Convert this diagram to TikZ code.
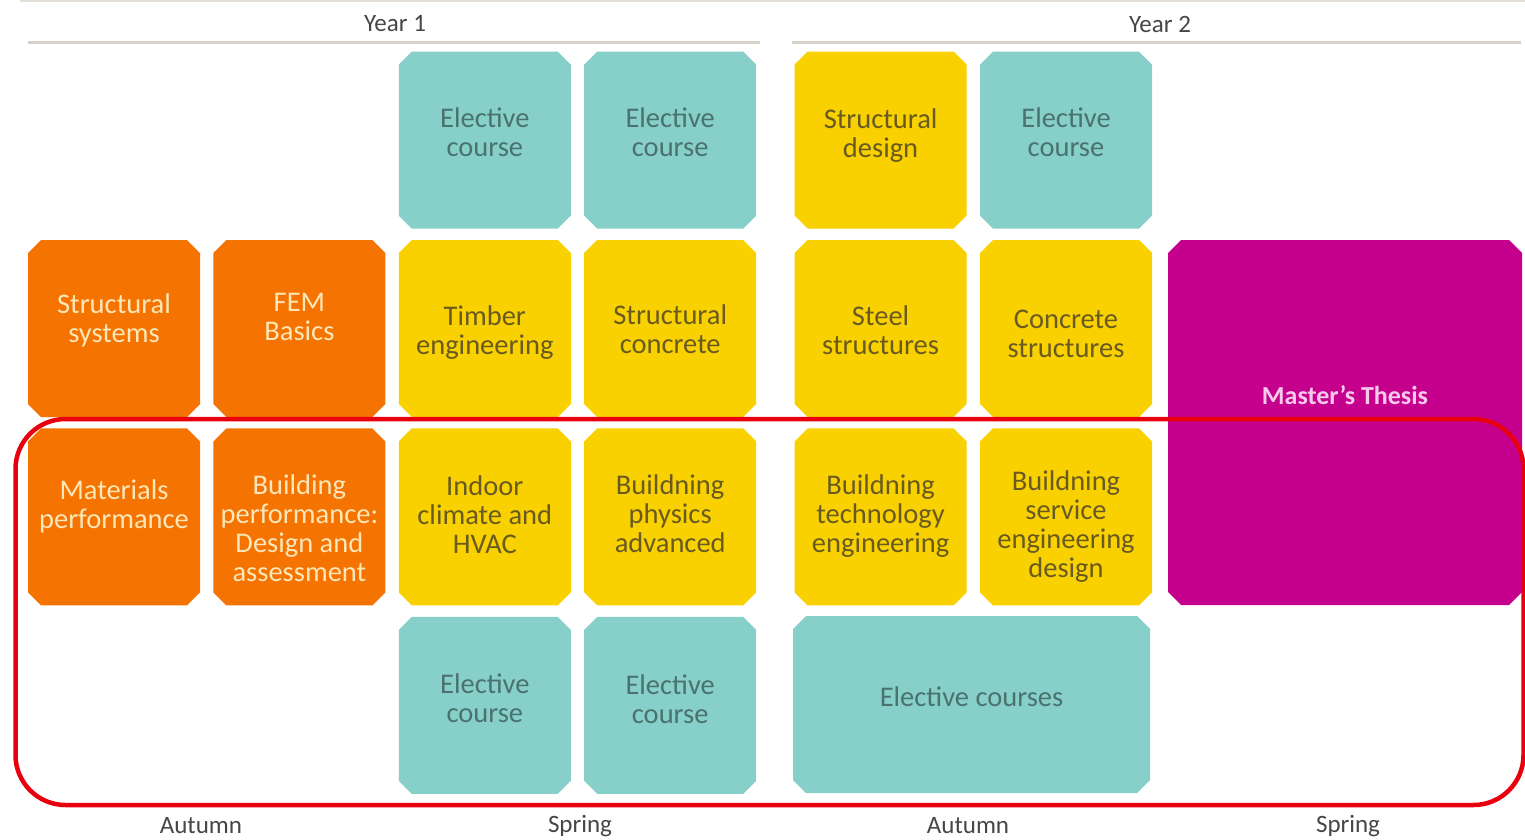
\documentclass[tikz,border=0pt]{standalone}
\usepackage{fontspec}
\setmainfont{Carlito}
\usepackage{tikz}
\usetikzlibrary{positioning}
\usetikzlibrary{shapes.misc}

\definecolor{basiccol}{RGB}{245,115,0}
\definecolor{basictext}{RGB}{253,230,184}
\definecolor{advcol}{RGB}{249,209,0}
\definecolor{advtext}{RGB}{104,90,32}
\definecolor{electcol}{RGB}{135,208,201}
\definecolor{electtext}{RGB}{74,114,110}
\definecolor{thesiscol}{RGB}{196,0,140}
\definecolor{thesistext}{RGB}{248,200,236}
\definecolor{headtext}{RGB}{70,70,70}
\definecolor{rulecol}{RGB}{216,209,200}
\definecolor{framecol}{RGB}{232,0,15}

\begin{document}
\begin{tikzpicture}[x=1pt,y=1pt,
  course/.style={chamfered rectangle, chamfered rectangle xsep=6.5pt,
    chamfered rectangle ysep=6.5pt, minimum width=172pt, minimum height=177pt,
    inner sep=12pt},
  lbl/.style={align=center, inner sep=0pt, font=\fontsize{28.5}{29}\selectfont},
  basic/.style 2 args={course, fill=basiccol,
    label={[lbl, text=basictext, yshift=#2]center:{#1}}},
  adv/.style 2 args={course, fill=advcol,
    label={[lbl, text=advtext, yshift=#2]center:{#1}}},
  elective/.style 2 args={course, fill=electcol,
    label={[lbl, text=electtext, yshift=#2]center:{#1}}},
  thesis/.style 2 args={course, fill=thesiscol,
    label={[lbl, text=thesistext, yshift=#2,
      font=\fontsize{26}{29}\selectfont\bfseries]center:{#1}}},
  head/.style={font=\fontsize{25}{28}\selectfont, text=headtext},
  rule/.style={draw=rulecol, line width=3pt},
  frame/.style={draw=framecol, line width=4.5pt, rounded corners=50pt},
  node distance=11pt and 13pt]
\useasboundingbox (0,0) rectangle (1525,-839);

% Headers
\draw[draw=rulecol!70, line width=1.5pt] (20,-1) -- (1525,-1);
\node[head] (year1) at (395,-24) {Year 1};
\node[head] (year2) at (1160,-24) {Year 2};
\draw[rule] (28,-42) -- (760,-42);
\draw[rule] (792,-42) -- (1521,-42);

% Middle row (compulsory courses)
\node[basic={Structural\\systems}{8pt}] (strsys) at (114,-328.5) {};
\node[basic={FEM\\Basics}{12pt}, right=of strsys] (fem) {};
\node[adv={Timber\\engineering}{-4pt}, right=of fem] (timber) {};
\node[adv={Structural\\concrete}{-1pt}, right=of timber] (strconc) {};
\node[adv={Steel\\structures}{-2pt}, right=38pt of strconc] (steel) {};
\node[adv={Concrete\\structures}{-5pt}, right=of steel] (concstr) {};

% Top row
\node[elective={Elective\\course}{8pt}, above=of timber] (elec1) {};
\node[elective={Elective\\course}{8pt}, above=of strconc] (elec2) {};
\node[adv={Structural\\design}{5pt}, above=of steel] (strdes) {};
\node[elective={Elective\\course}{8pt}, above=of concstr] (elec3) {};

% Lower row
\node[basic={Materials\\performance}{11pt}, below=of strsys] (matperf) {};
\node[basic={Building\\performance:\\Design and\\assessment}{-11pt}, below=of fem] (bperf) {};
\node[adv={Indoor\\climate and\\HVAC}{2pt}, below=of timber] (indoor) {};
\node[adv={Buildning\\physics\\advanced}{3pt}, below=of strconc] (bphys) {};
\node[adv={Buildning\\technology\\engineering}{1pt}, below=of steel] (btech) {};
\node[adv={Buildning\\service\\engineering\\design}{-10pt}, below=of concstr] (bserv) {};

% Bottom row
\node[elective={Elective\\course}{7pt}, below=of indoor] (elec4) {};
\node[elective={Elective\\course}{6pt}, below=of bphys] (elec5) {};
\node[elective={Elective courses}{8pt}, minimum width=357pt] (elecall) at (971.5,-704.5) {};

% Thesis
\node[thesis={Master's Thesis}{27pt}, minimum width=354pt, minimum height=365pt] (thesis) at (1345,-422.5) {};

% Frame
\draw[frame] (15.5,-419) rectangle (1523.5,-805);

% Semesters
\node[head] (aut1) at (201,-826) {Autumn};
\node[head] (spr1) at (580,-826) {Spring};
\node[head] (aut2) at (968,-826) {Autumn};
\node[head] (spr2) at (1348,-826) {Spring};
\end{tikzpicture}
\end{document}
